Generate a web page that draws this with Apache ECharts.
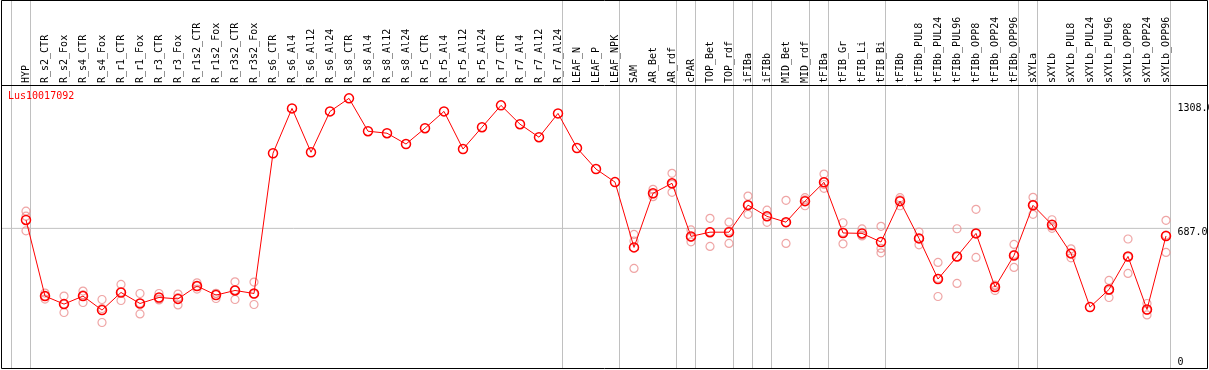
<!DOCTYPE html>
<html><head><meta charset="utf-8">
<script src="https://cdn.jsdelivr.net/npm/echarts@6/dist/echarts.min.js"></script>
<style>html,body{margin:0;padding:0;background:#fff}#c{width:1209px;height:370px;background:#fff}</style>
</head><body><div id="c"></div>
<script>
const geneName = 'Lus10017092';
const categories = ['HYP','R_s2_CTR','R_s2_Fox','R_s4_CTR','R_s4_Fox','R_r1_CTR','R_r1_Fox','R_r3_CTR','R_r3_Fox','R_r1s2_CTR','R_r1s2_Fox','R_r3s2_CTR','R_r3s2_Fox','R_s6_CTR','R_s6_Al4','R_s6_Al12','R_s6_Al24','R_s8_CTR','R_s8_Al4','R_s8_Al12','R_s8_Al24','R_r5_CTR','R_r5_Al4','R_r5_Al12','R_r5_Al24','R_r7_CTR','R_r7_Al4','R_r7_Al12','R_r7_Al24','LEAF_N','LEAF_P','LEAF_NPK','SAM','AR_Bet','AR_rdf','cPAR','TOP_Bet','TOP_rdf','iFIBa','iFIBb','MID_Bet','MID_rdf','tFIBa','tFIB_Gr','tFIB_Li','tFIB_Bi','tFIBb','tFIBb_PUL8','tFIBb_PUL24','tFIBb_PUL96','tFIBb_OPP8','tFIBb_OPP24','tFIBb_OPP96','sXYLa','sXYLb','sXYLb_PUL8','sXYLb_PUL24','sXYLb_PUL96','sXYLb_OPP8','sXYLb_OPP24','sXYLb_OPP96'];
const meanValues = [729,349,309,349,279,367,312,342,335,399,354,377,362,
  1062,1286,1067,1271,1336,1172,1162,1108,1187,1271,1083,1192,1301,1207,1142,1261,
  1088,983,918,
  592,862,912,647,668,668,803,747,718,823,
  917,664,662,619,823,637,434,547,662,394,552,
  802,705,562,294,382,547,282,649];
const N = null;
const rep1 = [773,364,349,374,332,407,362,362,359,415,363,420,419,
  N,N,N,N,N,N,N,N,N,N,N,N,N,N,N,N,N,N,N,
  657,882,962,679,737,718,848,778,827,840,
  958,715,684,697,840,669,517,685,782,404,607,
  842,730,585,N,427,634,312,727];
const rep2 = [748,349,309,355,287,369,314,334,341,398,362,379,360,
  N,N,N,N,N,N,N,N,N,N,N,N,N,N,N,N,N,N,N,
  624,859,907,642,670,674,804,746,715,829,
  906,667,653,587,829,637,438,544,662,401,557,
  807,698,561,N,377,545,279,653];
const rep3 = [675,334,267,317,217,327,260,330,305,384,337,332,307,
  N,N,N,N,N,N,N,N,N,N,N,N,N,N,N,N,N,N,N,
  487,845,867,620,597,612,757,717,612,800,
  887,610,649,565,800,605,347,412,542,377,492,
  757,687,540,N,342,462,255,567];
// indices of the first category of each group (last = end of axis)
const groupStarts = [0,1,29,32,35,36,38,39,40,42,43,46,53,54,61];
const gridLineValue = 687;
const yLabelValues = [1308, 687, 0];
const yLabelTexts = ['1308.0', '687.0', '0'];

const FONT = 'DejaVu Sans Mono';
const STEP = 19;
const Y_MIN = -15, Y_MAX = 1827;
const X_MIN = -25 / STEP, X_MAX = (categories.length - 1) + 4 / STEP;
const chart = echarts.init(document.getElementById('c'), null, {renderer: 'canvas'});

const repStyle = (data) => ({
  type: 'scatter', xAxisIndex: 0, yAxisIndex: 0, data: data,
  symbol: 'circle', symbolSize: 8, z: 60, silent: true,
  itemStyle: {color: 'transparent', borderColor: '#eb8f8f', borderWidth: 1.2}
});

chart.setOption({
  animation: false,
  grid: [
    {left: 26, right: 43, top: 0, bottom: 1},
    {left: 1.5, right: 38.5, top: 0, bottom: 1}
  ],
  xAxis: [
    {type: 'category', gridIndex: 0, data: categories, boundaryGap: false, position: 'top', offset: -85,
      axisLine: {show: false}, axisTick: {show: false}, splitLine: {show: false},
      axisLabel: {interval: 0, rotate: 90, margin: 2, fontSize: 10, fontFamily: FONT, color: '#000'}},
    {type: 'value', gridIndex: 1, min: X_MIN, max: X_MAX, show: false}
  ],
  yAxis: [
    {type: 'value', gridIndex: 0, min: Y_MIN, max: Y_MAX, show: false},
    {type: 'value', gridIndex: 1, min: Y_MIN, max: Y_MAX, show: false}
  ],
  series: [
    repStyle(rep1), repStyle(rep2), repStyle(rep3),
    {type: 'line', xAxisIndex: 0, yAxisIndex: 0, data: meanValues, z: 61, silent: true,
      symbol: 'circle', symbolSize: 9, showAllSymbol: true,
      lineStyle: {color: '#ff0000', width: 1},
      itemStyle: {color: 'transparent', borderColor: '#ff0000', borderWidth: 1.5}}
  ]
});

// decorations positioned through the value axes of grid 1
const px = v => chart.convertToPixel({xAxisIndex: 1}, v);
const py = v => chart.convertToPixel({yAxisIndex: 1}, v);
const yTop = py(Y_MAX), yBot = py(Y_MIN);
const deco = [];
groupStarts.forEach(m => {
  const x = px(m - 15 / STEP);
  deco.push({type: 'line', z: 1, silent: true, shape: {x1: x, y1: yTop, x2: x, y2: yBot},
    style: {stroke: '#c0c0c0', lineWidth: 1}});
});
deco.push({type: 'line', z: 1, silent: true,
  shape: {x1: px(X_MIN), y1: py(gridLineValue), x2: px(X_MAX), y2: py(gridLineValue)},
  style: {stroke: '#c0c0c0', lineWidth: 1}});
const yOffsets = [4, 4, -4];
yLabelValues.forEach((v, i) => {
  deco.push({type: 'text', z: 90, silent: true, x: px(X_MAX) + 7, y: py(v) + yOffsets[i],
    style: {text: yLabelTexts[i], fill: '#000', fontSize: 10, fontFamily: FONT,
      align: 'left', verticalAlign: 'middle'}});
});
deco.push({type: 'text', z: 90, silent: true, x: 8, y: 91,
  style: {text: geneName, fill: '#ff0000', fontSize: 10, fontFamily: FONT,
    align: 'left', verticalAlign: 'top'}});
deco.push({type: 'rect', z: 100, silent: true, shape: {x: 1.5, y: 0.5, width: 1206, height: 368},
  style: {fill: 'transparent', stroke: '#000', lineWidth: 1}});
deco.push({type: 'line', z: 100, silent: true, shape: {x1: 1, y1: 85.5, x2: 1208, y2: 85.5},
  style: {stroke: '#000', lineWidth: 1}});
chart.setOption({graphic: deco});
</script></body></html>
